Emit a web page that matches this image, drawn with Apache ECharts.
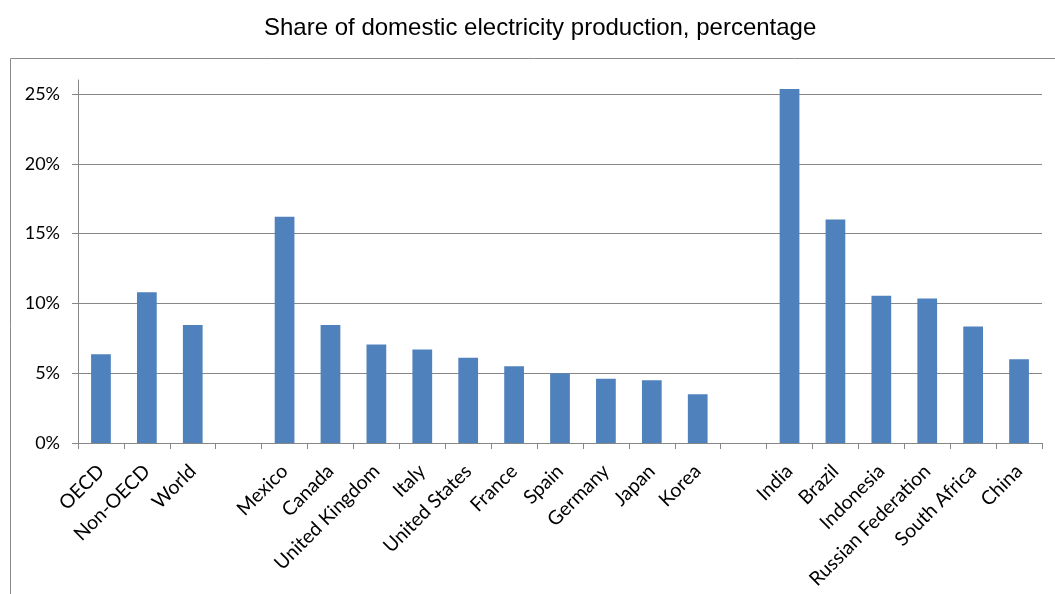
<!DOCTYPE html>
<html>
<head>
<meta charset="utf-8">
<script src="https://cdn.jsdelivr.net/npm/echarts@6/dist/echarts.min.js"></script>
<style>
  html, body { margin: 0; padding: 0; background: #fff; }
  #chart { width: 1055px; height: 594px; }
</style>
</head>
<body>
<div id="chart"></div>
<script>
// Country / group names; blank entries separate the three groups
const categories = [
  'OECD', 'Non-OECD', 'World', '',
  'Mexico', 'Canada', 'United Kingdom', 'Italy', 'United States', 'France',
  'Spain', 'Germany', 'Japan', 'Korea', '',
  'India', 'Brazil', 'Indonesia', 'Russian Federation', 'South Africa', 'China'
];

// Share of domestic electricity production (%)
const shares = [
  6.35, 10.8, 8.45, null,
  16.2, 8.45, 7.05, 6.7, 6.1, 5.5,
  5.0, 4.6, 4.5, 3.5, null,
  25.35, 16.0, 10.55, 10.35, 8.35, 6.0
];

// Value-axis ticks
const yTicks = [0, 5, 10, 15, 20, 25];

const chart = echarts.init(document.getElementById('chart'));
const axisGray = '#878787';

chart.setOption({
  animation: false,
  title: {
    text: 'Share of domestic electricity production, percentage',
    left: 259,
    top: 11,
    textStyle: {
      fontFamily: 'Liberation Sans',
      fontSize: 24,
      fontWeight: 'normal',
      color: '#000'
    }
  },
  graphic: [{
    type: 'rect',
    shape: { x: 10.5, y: 58.5, width: 1100, height: 600 },
    style: { fill: 'none', stroke: '#8a8a8a', lineWidth: 1 },
    silent: true
  }],
  grid: { left: 78, right: 13, top: 80, bottom: 151 },
  xAxis: {
    type: 'category',
    data: categories,
    axisLine: { lineStyle: { color: axisGray, width: 1 } },
    axisTick: { show: true, alignWithLabel: false, length: 6, lineStyle: { color: axisGray } },
    axisLabel: {
      interval: 0,
      rotate: 45,
      margin: 25,
      fontFamily: 'Lato',
      fontSize: 19.5,
      color: '#000'
    }
  },
  yAxis: {
    type: 'value',
    min: 0,
    max: 26,
    interval: 5,
    axisLine: { show: true, lineStyle: { color: axisGray, width: 1 } },
    axisTick: { show: true, length: 6, lineStyle: { color: axisGray }, customValues: yTicks },
    splitLine: { show: true, lineStyle: { color: axisGray, width: 1 } },
    axisLabel: {
      customValues: yTicks,
      formatter: '{value}%',
      margin: 18,
      fontFamily: 'Lato',
      fontSize: 18,
      color: '#000'
    }
  },
  series: [{
    type: 'bar',
    data: shares,
    barWidth: '43%',
    itemStyle: { color: '#4F81BD' }
  }]
});
</script>
</body>
</html>
